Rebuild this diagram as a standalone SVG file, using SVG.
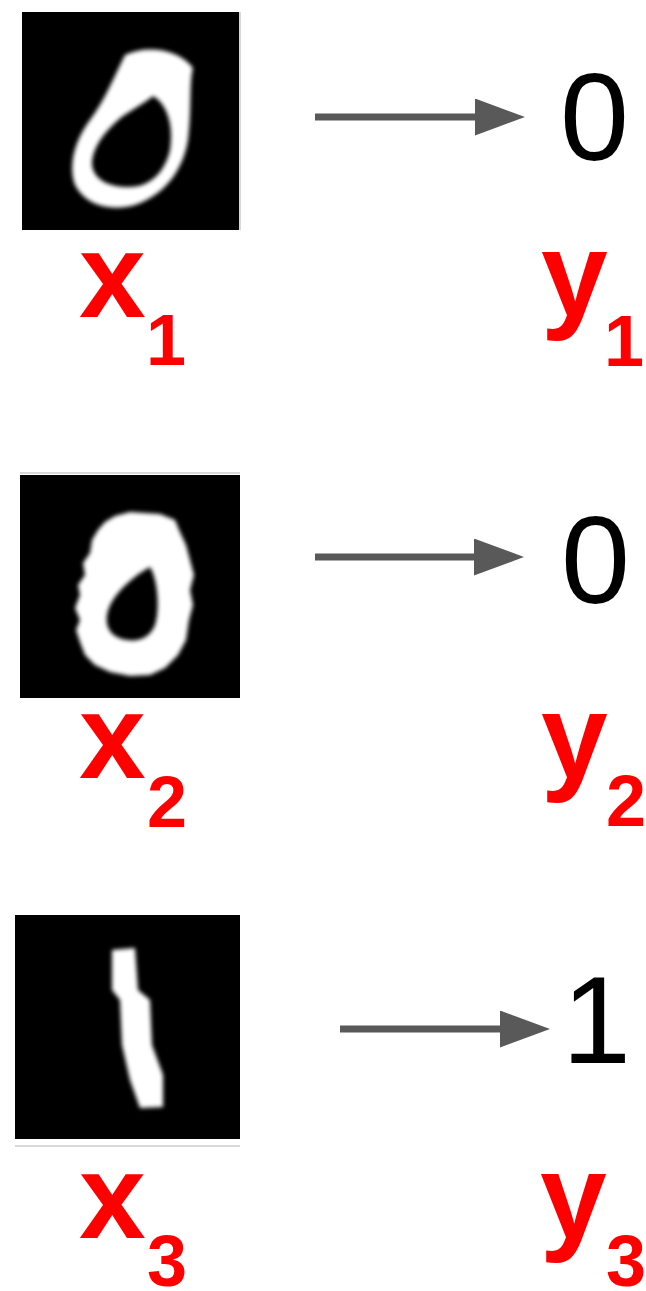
<svg xmlns="http://www.w3.org/2000/svg" width="646" height="1291" viewBox="0 0 646 1291">
  <style>
    .img { fill: #000000; }
    .stroke { fill: #ffffff; fill-rule: evenodd; filter: url(#soft); }
    .lbl { font-family: "Liberation Sans", Arial, sans-serif; font-weight: bold; fill: #ff0000; }
    .main { font-size: 120px; }
    .sub { font-size: 72px; }
    .out { font-family: "Liberation Sans", Arial, sans-serif; font-size: 124px; fill: #000000; }
    .conn { stroke: #595959; stroke-width: 7; fill: none; marker-end: url(#head); }
    .edge { stroke: #d8d8d8; stroke-width: 2; }
  </style>
  <defs>
    <filter id="soft" x="-20%" y="-20%" width="140%" height="140%">
      <feGaussianBlur stdDeviation="2.2"/>
    </filter>
    <marker id="head" viewBox="0 0 50 37" markerWidth="50" markerHeight="37" refX="2" refY="18.5" orient="auto" markerUnits="userSpaceOnUse">
      <path d="M0,0 L50,18.5 L0,37 Z" fill="#595959"/>
    </marker>
  </defs>
  <rect width="646" height="1291" fill="#ffffff"/>

  <g id="input1">
    <rect class="img" x="22" y="12" width="217" height="218"/>
    <line class="edge" x1="240" y1="12" x2="240" y2="230"/>
    <path class="stroke" d="M125,55 C145,45 178,48 193,68 C189,82 192,110 188,140 C183,170 165,195 135,205 C110,212 85,205 75,185 C68,165 75,140 90,120 C105,100 115,75 125,55 Z M153,96 C167,104 174,125 170,150 C165,172 150,187 130,187 C108,188 92,178 92,163 C93,145 108,128 123,116 C137,107 147,101 153,96 Z"/>
  </g>
  <g id="input2">
    <line class="edge" x1="20" y1="473" x2="240" y2="473"/>
    <rect class="img" x="20" y="475" width="220" height="223"/>
    <path class="stroke" d="M115,516 L130,512 L160,514 L175,520 L180,532 L186,545 L190,560 L194,575 L190,590 L193,605 L189,620 L186,640 L178,655 L165,668 L150,675 L130,676 L110,672 L95,665 L85,655 L80,642 L76,630 L80,620 L75,608 L80,595 L78,585 L85,575 L83,563 L90,553 L92,540 L98,530 L105,522 Z M150,567 C158,580 160,610 155,625 C150,638 138,642 127,640 C112,638 105,628 107,615 C110,595 135,575 150,567 Z"/>
  </g>
  <g id="input3">
    <rect class="img" x="15" y="915" width="225" height="224"/>
    <line class="edge" x1="15" y1="1146" x2="240" y2="1146"/>
    <path class="stroke" d="M112,950 L135,948 L138,990 L150,1000 L152,1045 L163,1075 L163,1107 L140,1108 L130,1080 L122,1045 L120,1000 L112,990 Z"/>
  </g>

  <g id="label-x1"><text class="lbl main" x="79" y="317">x</text><text class="lbl sub" x="146" y="365">1</text></g>
  <g id="label-x2"><text class="lbl main" x="79" y="778">x</text><text class="lbl sub" x="147" y="827">2</text></g>
  <g id="label-x3"><text class="lbl main" x="79" y="1238">x</text><text class="lbl sub" x="147" y="1286">3</text></g>

  <g id="output1"><text class="out" x="560" y="160">0</text></g>
  <g id="output2"><text class="out" x="561" y="603">0</text></g>
  <g id="output3"><text class="out" x="562" y="1063">1</text></g>

  <g id="label-y1"><text class="lbl main" x="541" y="316">y</text><text class="lbl sub" x="604" y="366">1</text></g>
  <g id="label-y2"><text class="lbl main" x="541" y="778">y</text><text class="lbl sub" x="606" y="826">2</text></g>
  <g id="label-y3"><text class="lbl main" x="540" y="1238">y</text><text class="lbl sub" x="606" y="1286">3</text></g>

  <g id="connectors">
    <line class="conn" x1="315" y1="117" x2="477" y2="117"/>
    <line class="conn" x1="315" y1="557" x2="476" y2="557"/>
    <line class="conn" x1="340" y1="1029" x2="502" y2="1029"/>
  </g>
</svg>
